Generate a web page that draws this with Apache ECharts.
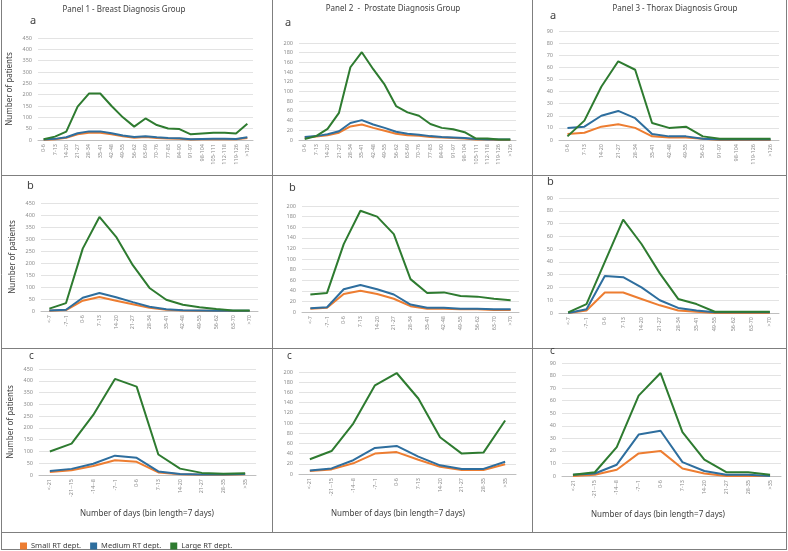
<!DOCTYPE html>
<html>
<head>
<meta charset="utf-8">
<script src="https://cdn.jsdelivr.net/npm/echarts@6/dist/echarts.min.js"></script>
<style>
  html, body { margin: 0; padding: 0; background: #fff; }
  #main { width: 788px; height: 551px; }
</style>
</head>
<body>
<div id="main"></div>
<script>
// categories (days bins)
const catsA = ['0-6','7-13','14-20','21-27','28-34','35-41','42-48','49-55','56-62','63-69','70-76','77-83','84-90','91-97','98-104','105-111','112-118','119-126','>126'];
const catsA3 = ['0-6','7-13','14-20','21-27','28-34','35-41','42-48','49-55','56-62','91-97','98-104','119-126','>126'];
const catsB = ['<-7','-7--1','0-6','7-13','14-20','21-27','28-34','35-41','42-48','49-55','56-62','63-70','>70'];
const catsB3 = ['<-7','-7--1','0-6','7-13','14-20','21-27','28-34','35-41','49-55','56-62','63-70','>70'];
const catsC = ['<-21','-21--15','-14--8','-7--1','0-6','7-13','14-20','21-27','28-35','>35'];

// Panel 1 - Breast
const breastA_small  = [1,3,10,25,32,32,25,16,10,13,9,7,6,2,3,3,3,3,9];
const breastA_medium = [2,5,12,30,38,38,30,20,13,17,12,9,8,3,4,5,5,4,12];
const breastA_large  = [3,15,37,147,205,205,150,100,59,95,66,51,48,25,29,32,32,29,72];
const breastB_small  = [1,4,43,58,43,28,13,5,2,1,1,0,0];
const breastB_medium = [2,5,55,75,57,37,18,7,3,2,1,1,1];
const breastB_large  = [10,33,260,392,309,191,96,47,26,16,8,2,2];
const breastC_small  = [13,20,38,63,56,11,3,1,1,3];
const breastC_medium = [17,26,48,82,73,15,4,2,2,4];
const breastC_large  = [100,133,255,408,375,87,27,9,5,7];

// Panel 2 - Prostate
const prostA_small  = [5,7,10,15,28,32,25,19,13,10,9,6,5,4,3,1,1,0,0];
const prostA_medium = [6,8,12,18,35,41,32,25,17,13,11,8,6,5,4,2,1,1,1];
const prostA_large  = [2,8,23,56,150,181,146,114,70,57,50,33,25,22,16,3,3,1,1];
const prostB_small  = [6,8,34,40,34,25,11,6,6,5,5,4,4];
const prostB_medium = [7,9,43,51,43,33,14,8,8,6,6,5,5];
const prostB_large  = [33,36,128,191,180,147,62,36,37,30,29,25,22];
const prostC_small  = [6,9,21,40,43,28,14,8,8,19];
const prostC_medium = [7,11,27,51,55,34,17,10,10,24];
const prostC_large  = [29,45,99,174,198,148,72,40,42,105];

// Panel 3 - Thorax
const thoraxA_small  = [5,6,11,13,10,3,2,2,1,0,0,0,0];
const thoraxA_medium = [10,11,20,24,18,5,3,3,1,0.5,0.5,0.5,0.5];
const thoraxA_large  = [3,16,44,65,58,14,10,11,3,1,1,1,1];
const thoraxB_small  = [0,2,16,16,11,6,2,1,0,0,0,0];
const thoraxB_medium = [0,3,29,28,20,10,4,2,0.5,0.5,0.5,0.5];
const thoraxB_large  = [0.5,7,40,73,54,31,11,7,1,1,1,1];
const thoraxC_small  = [0,1,5,18,20,6,2,0,0,0];
const thoraxC_medium = [1,2,9,33,36,11,4,1,1,0];
const thoraxC_large  = [1,3,23,64,82,35,13,3,3,1];

const seriesNames = ['Small RT dept.','Medium RT dept.','Large RT dept.'];
const colors = ['#ED7D31','#2E6E9E','#2E7B30'];

const font = 'Noto Sans';

// grid boxes per panel (left, top, width, height)
const panels = [
  {box:[38,38,215,102],  cats:catsA,  max:450, step:50, data:[breastA_small,breastA_medium,breastA_large], yname:true},
  {box:[299,43,217,97],  cats:catsA,  max:200, step:20, data:[prostA_small,prostA_medium,prostA_large]},
  {box:[559,31,220,109], cats:catsA3, max:90,  step:10, data:[thoraxA_small,thoraxA_medium,thoraxA_large]},
  {box:[41,203,217,108], cats:catsB,  max:450, step:50, data:[breastB_small,breastB_medium,breastB_large], yname:true},
  {box:[302,206,217,106],cats:catsB,  max:200, step:20, data:[prostB_small,prostB_medium,prostB_large]},
  {box:[559,198,220,115],cats:catsB3, max:90,  step:10, data:[thoraxB_small,thoraxB_medium,thoraxB_large]},
  {box:[39,369,217,106], cats:catsC,  max:450, step:50, data:[breastC_small,breastC_medium,breastC_large], yname:true},
  {box:[299,372,217,102],cats:catsC,  max:200, step:20, data:[prostC_small,prostC_medium,prostC_large]},
  {box:[562,363,219,113],cats:catsC,  max:90,  step:10, data:[thoraxC_small,thoraxC_medium,thoraxC_large]}
];

const grid = [], xAxis = [], yAxis = [], series = [];
panels.forEach(function (p, i) {
  grid.push({left:p.box[0], top:p.box[1], width:p.box[2], height:p.box[3], containLabel:false});
  xAxis.push({
    type:'category', gridIndex:i, data:p.cats, boundaryGap:true,
    axisLine:{lineStyle:{color:'#BFBFBF'}},
    axisTick:{show:false},
    axisLabel:{rotate:90, fontSize:5.5, color:'#8C8C8C', fontFamily:font, interval:0, margin:4}
  });
  yAxis.push({
    type:'value', gridIndex:i, min:0, max:p.max, interval:p.step,
    name: p.yname ? 'Number of patients' : '',
    nameLocation:'middle', nameGap:24,
    nameTextStyle:{fontSize:8, color:'#404040', fontFamily:font},
    axisLine:{show:false}, axisTick:{show:false},
    axisLabel:{fontSize:5.5, color:'#8C8C8C', fontFamily:font, margin:6},
    splitLine:{lineStyle:{color:'#E3E3E3', width:1}}
  });
  p.data.forEach(function (d, k) {
    series.push({
      name:seriesNames[k], type:'line', xAxisIndex:i, yAxisIndex:i,
      data:d, showSymbol:false, symbol:'none',
      lineStyle:{color:colors[k], width:2}, itemStyle:{color:colors[k]},
      animation:false
    });
  });
});

function txt(x, y, s, size, align) {
  return {type:'text', left:x, top:y, style:{text:s, fontSize:size, fill:'#404040', fontFamily:font, textAlign:align || 'left'}};
}
function line(x1, y1, x2, y2) {
  return {type:'line', shape:{x1:x1, y1:y1, x2:x2, y2:y2}, style:{stroke:'#7F7F7F', lineWidth:1}, silent:true};
}

const graphic = [
  // frame
  line(1.5,0,1.5,549), line(786.5,0,786.5,549),
  line(272.5,0,272.5,532), line(532.5,0,532.5,532),
  line(1,175.5,787,175.5), line(1,348.5,787,348.5),
  line(1,532.5,787,532.5), line(1,549.5,787,549.5),
  // panel titles
  {type:'text', x:124, y:6, style:{text:'Panel 1 - Breast Diagnosis Group', fontSize:8, fill:'#404040', fontFamily:font, align:'center'}},
  {type:'text', x:393, y:5, style:{text:'Panel 2  -  Prostate Diagnosis Group', fontSize:8, fill:'#404040', fontFamily:font, align:'center'}},
  {type:'text', x:675, y:5, style:{text:'Panel 3 - Thorax Diagnosis Group', fontSize:8, fill:'#404040', fontFamily:font, align:'center'}},
  // row letters
  txt(30,15,'a',11), txt(285,17,'a',11), txt(550,10,'a',11),
  txt(27,180,'b',11), txt(289,182,'b',11), txt(547,176,'b',11),
  txt(29,351,'c',10), txt(287,351,'c',10), txt(550,346,'c',10),
  // x axis names
  {type:'text', x:147, y:510, style:{text:'Number of days (bin length=7 days)', fontSize:8, fill:'#404040', fontFamily:font, align:'center'}},
  {type:'text', x:398, y:510, style:{text:'Number of days (bin length=7 days)', fontSize:8, fill:'#404040', fontFamily:font, align:'center'}},
  {type:'text', x:658, y:511, style:{text:'Number of days (bin length=7 days)', fontSize:8, fill:'#404040', fontFamily:font, align:'center'}}
];

const chart = echarts.init(document.getElementById('main'));
chart.setOption({
  animation:false,
  grid: grid,
  xAxis: xAxis,
  yAxis: yAxis,
  series: series,
  graphic: graphic,
  legend: {
    data: seriesNames.map(function (n, k) { return {name:n, itemStyle:{color:colors[k]}}; }),
    left: 15, top: 537, icon: 'rect', itemWidth: 7, itemHeight: 7, itemGap: 9,
    textStyle: {fontSize: 7.5, color: '#404040', fontFamily: font, padding:[0,0,0,-1]}
  }
});
</script>
</body>
</html>
